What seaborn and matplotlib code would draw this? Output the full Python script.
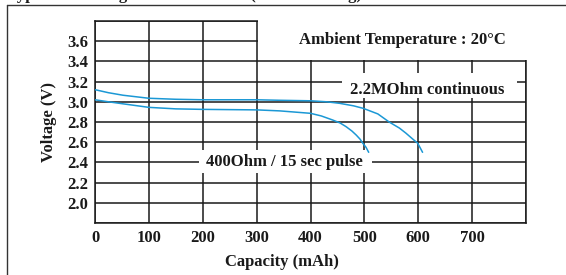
import matplotlib
matplotlib.use("Agg")
import matplotlib.pyplot as plt
import seaborn as sns
import pandas as pd
from matplotlib.patches import Rectangle
from matplotlib.lines import Line2D

# Curva de descarga contínua (2.2 MOhm)
cap_cont = [0, 25, 52, 100, 150, 200, 300, 343, 400, 430, 454, 480, 498, 525, 546, 565, 577, 590, 599, 608]
volt_cont = [3.12, 3.09, 3.065, 3.035, 3.025, 3.02, 3.02, 3.015, 3.01, 3.0, 2.985, 2.96, 2.935, 2.88, 2.80, 2.74, 2.69, 2.63, 2.59, 2.50]

# Curva de pulso (400 Ohm / 15 s)
cap_pulse = [0, 25, 52, 100, 150, 200, 300, 343, 400, 420, 441, 455, 466, 477, 485, 492, 497, 503, 508]
volt_pulse = [3.02, 3.0, 2.98, 2.945, 2.93, 2.925, 2.92, 2.91, 2.886, 2.86, 2.82, 2.79, 2.754, 2.71, 2.67, 2.63, 2.59, 2.55, 2.50]

x_ticks = [0, 100, 200, 300, 400, 500, 600, 700]
y_ticks = [2.0, 2.2, 2.4, 2.6, 2.8, 3.0, 3.2, 3.4, 3.6]

sns.set_theme(style="whitegrid", rc={
    "grid.color": "#1a1a1a",
    "grid.linewidth": 1.1,
    "axes.edgecolor": "#1a1a1a",
    "axes.linewidth": 1.1,
})
plt.rcParams["font.family"] = ["Liberation Serif", "DejaVu Serif"]
plt.rcParams["font.weight"] = "bold"

fig = plt.figure(figsize=(5.66, 2.75), dpi=100)
ax = fig.add_axes([95 / 566, 1 - 223 / 275, 431 / 566, 202 / 275])

df_cont = pd.DataFrame({"cap": cap_cont, "volt": volt_cont})
df_pulse = pd.DataFrame({"cap": cap_pulse, "volt": volt_pulse})
azul = "#1b98d5"
sns.lineplot(data=df_cont, x="cap", y="volt", ax=ax, color=azul, lw=1.1, zorder=5, sort=False)
sns.lineplot(data=df_pulse, x="cap", y="volt", ax=ax, color=azul, lw=1.1, zorder=5, sort=False)

fs = 12
ax.set_xlim(0, 800)
ax.set_ylim(1.8, 3.8)
ax.set_xticks(x_ticks + [800])
ax.set_xticklabels([str(v) for v in x_ticks] + [""])
ax.set_yticks([1.8] + y_ticks + [3.8])
ax.set_yticklabels([""] + [f"{v:.1f}" for v in y_ticks] + [""])
ax.tick_params(axis="both", length=0, labelsize=fs, colors="#1a1a1a")
ax.tick_params(axis="x", pad=5)
ax.tick_params(axis="y", pad=5)

ax.set_xlabel("Capacity (mAh)", fontsize=fs, fontweight="bold", color="#1a1a1a")
ax.xaxis.set_label_coords(0.434, -0.155)
ax.set_ylabel("Voltage (V)", fontsize=fs, fontweight="bold", color="#1a1a1a")
ax.yaxis.set_label_coords(-0.088, 0.5)

# área branca no canto superior direito
ax.add_patch(Rectangle((302, 3.415), 560, 0.6, facecolor="white", edgecolor="none",
                       zorder=3, clip_on=False))
ax.text(570, 3.61, "Ambient Temperature : 20°C", ha="center", va="center",
        fontsize=fs, fontweight="bold", color="#1a1a1a", zorder=6)

# caixas dos rótulos
ax.add_patch(Rectangle((459, 3.04), 324, 0.245, facecolor="white", edgecolor="none", zorder=3))
ax.text(617, 3.12, "2.2MOhm continuous", ha="center", va="center",
        fontsize=fs, fontweight="bold", color="#1a1a1a", zorder=6)
ax.add_patch(Rectangle((193, 2.30), 322, 0.225, facecolor="white", edgecolor="none", zorder=3))
ax.text(352, 2.40, "400Ohm / 15 sec pulse", ha="center", va="center",
        fontsize=fs, fontweight="bold", color="#1a1a1a", zorder=6)

# moldura externa e título cortado
fig.add_artist(Line2D([7 / 566, 7 / 566], [0, 1 - 5 / 275], color="#333333", lw=1.0))
fig.add_artist(Line2D([7 / 566, 1], [1 - 5 / 275, 1 - 5 / 275], color="#333333", lw=1.0))
fig.text(7 / 566, 1 + 1 / 275, "Typical Discharge Characteristics (Pulse Loading)",
         ha="left", va="baseline", fontsize=12, fontweight="bold", color="#1a1a1a")

fig.savefig("out.png", dpi=100)
